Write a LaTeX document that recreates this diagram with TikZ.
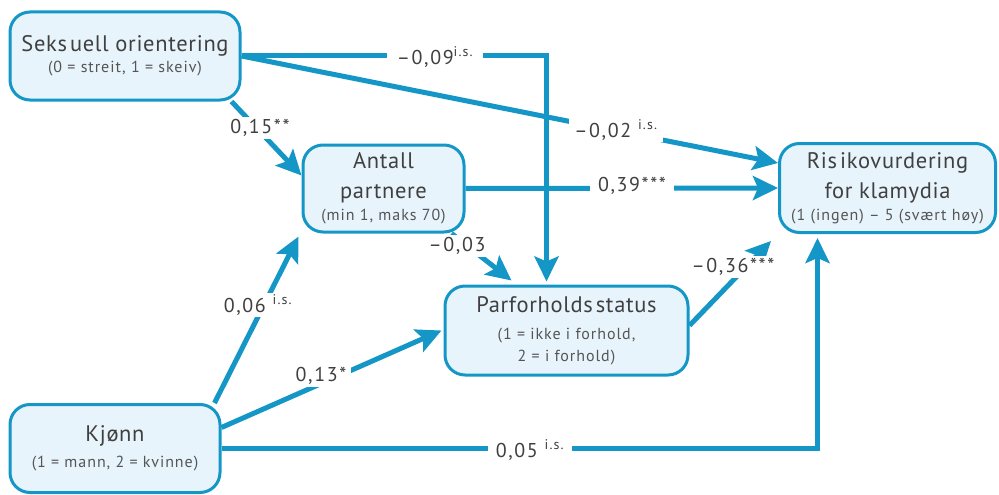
\documentclass[tikz,border=0pt]{standalone}
\usepackage{fontspec}
\setmainfont{PT Sans}
\usetikzlibrary{arrows.meta}
\definecolor{lineblue}{RGB}{20,150,198}
\definecolor{boxfill}{RGB}{232,244,251}
\definecolor{txtgray}{RGB}{64,64,64}
\definecolor{subgray}{RGB}{85,85,85}
\newcommand\mysubfont{\fontsize{16}{23}\selectfont\addfontfeature{LetterSpace=6}\color{subgray}}
\newcommand\myis{\textsuperscript{i.s.}}
\begin{document}
\begin{tikzpicture}[x=1pt,y=-1pt,
  box/.style={draw=lineblue, line width=3pt, fill=boxfill, rounded corners=20pt,
    align=center, text=txtgray, inner sep=0pt,
    font=\fontsize{22.5}{30}\selectfont\addfontfeature{LetterSpace=3}},
  conn/.style={draw=lineblue, line width=5pt, -{Stealth[length=25pt,width=24pt,inset=5pt]}},
  lbl/.style={fill=white, text=txtgray, inner xsep=5pt, inner ysep=2pt,
    font=\fontsize{20}{20}\selectfont\addfontfeature{LetterSpace=8}},
  ]
\useasboundingbox (0,0) rectangle (999,495);

\node[box, minimum width=230pt, minimum height=88pt] (seks) at (125,56)
  {Seks\kern3pt uell orientering\\[-9pt]\mysubfont (0 = streit, 1 = skeiv)};
\node[box, minimum width=161pt, minimum height=87pt] (ant) at (383.5,188.5)
  {Antall\\partnere\\[-8pt]\mysubfont (min 1, maks 70)};
\node[box, minimum width=243pt, minimum height=89pt] (par) at (566.5,330.5)
  {Parforholds\kern3pt status\\[-3pt]\mysubfont (1 = ikke i forhold,\\[-8pt]\mysubfont 2 = i forhold)};
\node[box, minimum width=216pt, minimum height=89pt] (risk) at (887.5,188)
  {Ris\kern3pt ikovurdering\\for klamydia\\[-8pt]\mysubfont (1 (ingen) – 5 (svært høy)};
\node[box, minimum width=210pt, minimum height=88pt] (kj) at (115,448.5)
  {Kjønn\\[-4pt]\mysubfont (1 = mann, 2 = kvinne)};

% connectors
\draw[conn] (seks.east) -| ([xshift=-20pt,yshift=3pt]par.north);
\draw[conn] (seks.east) -- ([yshift=25pt]risk.west);
\draw[conn] ([xshift=-10pt]seks.south east) -- ([yshift=13pt]ant.west);
\draw[conn] (ant.east) -- (risk.west);
\draw[conn] ([xshift=-14pt]ant.south east) -- ([xshift=-55pt,yshift=4pt]par.north);
\draw[conn] ([xshift=-7pt]kj.north east) -- ([xshift=-3pt,yshift=-3pt]ant.south west);
\draw[conn] ([yshift=21pt]kj.east) -- ([xshift=-2pt]par.west);
\draw[conn] (kj.east) -| ([xshift=-70pt,yshift=-4pt]risk.south);
\draw[conn] ([yshift=5pt]par.east) -- ([xshift=-7pt,yshift=-7pt]risk.south west);

% labels
\node[lbl] (l15) at (260,128) {0,15**};
\node[lbl, inner xsep=10pt] (l09) at (435,57) {–0,09\myis};
\node[lbl] (l02) at (616,130) {–0,02 \myis};
\node[lbl, inner xsep=8pt] (l39) at (632,186) {0,39***};
\node[lbl] (l03) at (457,246) {–0,03};
\node[lbl] (l06) at (258,305) {0,06 \myis};
\node[lbl] (l13) at (321,376) {0,13*};
\node[lbl, inner xsep=8pt] (l05) at (530,450) {0,05 \myis};
\node[lbl] (l36) at (733,267) {–0,36***};
\end{tikzpicture}
\end{document}
